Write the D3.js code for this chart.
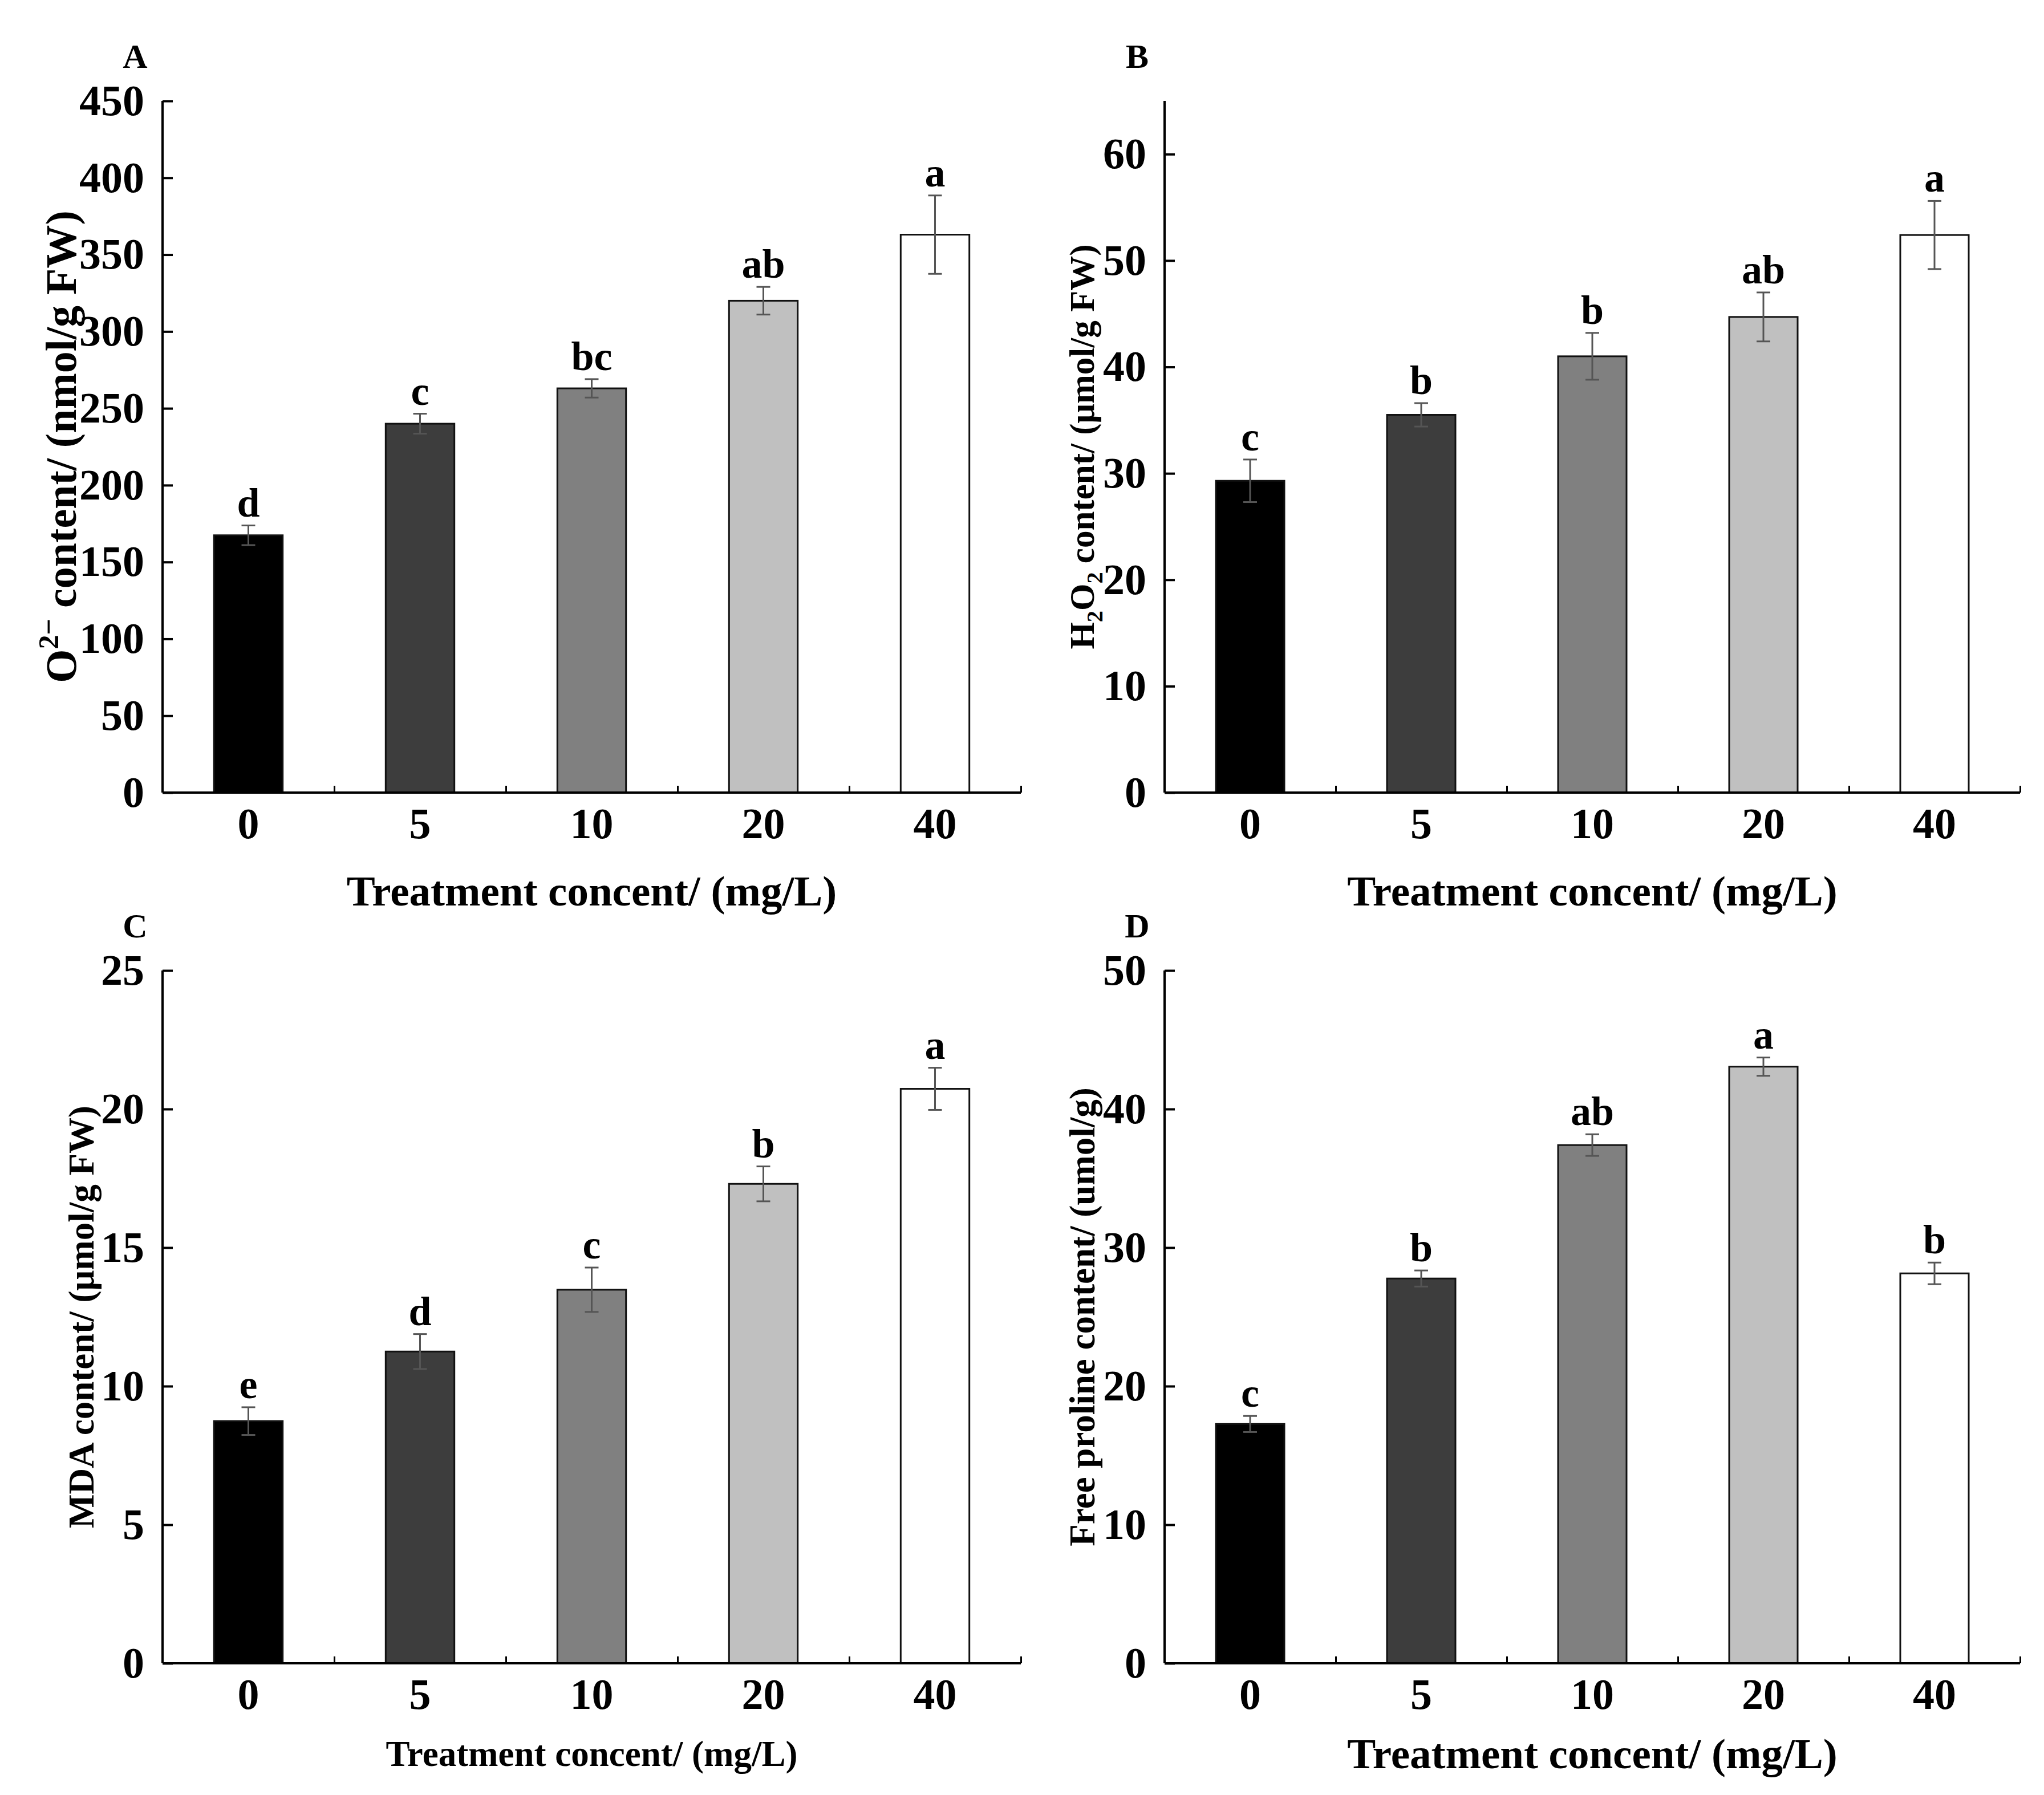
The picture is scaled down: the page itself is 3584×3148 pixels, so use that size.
<!DOCTYPE html>
<html>
<head>
<meta charset="utf-8">
<script src="https://cdn.jsdelivr.net/npm/d3@7"></script>
<style>
  body { margin: 0; background: #fff; }
  text { font-family: "Liberation Serif", "Times New Roman", serif; font-weight: bold; fill: #000; }
</style>
</head>
<body>
<svg id="fig"></svg>
<script>
// treatment concentrations (mg/L) and bar fills
const doses = ["0", "5", "10", "20", "40"];
const barColors = ["#000000", "#3d3d3d", "#808080", "#c0c0c0", "#ffffff"];

// A: superoxide
const o2Mean = [167.4, 240, 263, 320, 363];
const o2Err = [6.4, 6.5, 6, 9, 25.5];
const o2Letters = ["d", "c", "bc", "ab", "a"];
const o2Ticks = [0, 50, 100, 150, 200, 250, 300, 350, 400, 450];

// B: hydrogen peroxide
const h2o2Mean = [29.3, 35.5, 41.0, 44.7, 52.4];
const h2o2Err = [2.0, 1.1, 2.2, 2.3, 3.2];
const h2o2Letters = ["c", "b", "b", "ab", "a"];
const h2o2Ticks = [0, 10, 20, 30, 40, 50, 60];

// C: malondialdehyde
const mdaMean = [8.74, 11.25, 13.48, 17.3, 20.73];
const mdaErr = [0.5, 0.63, 0.8, 0.63, 0.76];
const mdaLetters = ["e", "d", "c", "b", "a"];
const mdaTicks = [0, 5, 10, 15, 20, 25];

// D: free proline
const proMean = [17.27, 27.77, 37.4, 43.06, 28.14];
const proErr = [0.58, 0.58, 0.78, 0.66, 0.78];
const proLetters = ["c", "b", "ab", "a", "b"];
const proTicks = [0, 10, 20, 30, 40, 50];

const W = 3584, H = 3148;
const svg = d3.select("#fig").attr("width", W).attr("height", H)
  .attr("viewBox", [0, 0, W, H]);

const panels = [
  { tag: "A", mean: o2Mean, err: o2Err, letters: o2Letters, ticks: o2Ticks, yMax: 450,
    left: 285, right: 1790, top: 177, bottom: 1390, titleX: 106, yTitleSize: 76,
    yTitle: [["O", ""], ["2\u2212", "sup"], [" content/ (nmol/g FW)", ""]], xTitleSize: 75, xTitleGap: 198 },
  { tag: "B", mean: h2o2Mean, err: h2o2Err, letters: h2o2Letters, ticks: h2o2Ticks, yMax: 65,
    left: 2042, right: 3542, top: 177, bottom: 1390, titleX: 1897, yTitleSize: 61,
    yTitle: [["H", ""], ["2", "sub"], ["O", ""], ["2", "sub"], [" content/ (\u03bcmol/g FW)", ""]], xTitleSize: 75, xTitleGap: 198 },
  { tag: "C", mean: mdaMean, err: mdaErr, letters: mdaLetters, ticks: mdaTicks, yMax: 25,
    left: 285, right: 1790, top: 1702, bottom: 2917, titleX: 142, yTitleSize: 63,
    yTitle: [["MDA content/ (\u03bcmol/g FW)", ""]], xTitleSize: 63, xTitleGap: 180 },
  { tag: "D", mean: proMean, err: proErr, letters: proLetters, ticks: proTicks, yMax: 50,
    left: 2042, right: 3542, top: 1702, bottom: 2917, titleX: 1897, yTitleSize: 63,
    yTitle: [["Free proline content/ (umol/g)", ""]], xTitleSize: 75, xTitleGap: 184 }
];

panels.forEach(p => {
  const g = svg.append("g");

  const x = d3.scaleBand().domain(doses).range([p.left, p.right]).paddingInner(0.6).paddingOuter(0.3);
  const xEdge = d3.scaleLinear().domain([0, doses.length]).range([p.left, p.right]);
  const y = d3.scaleLinear().domain([0, p.yMax]).range([p.bottom, p.top]);

  // bars
  g.selectAll(".bar")
    .data(p.mean)
    .enter()
    .append("rect")
    .attr("x", (d, i) => x(doses[i]))
    .attr("y", d => y(d))
    .attr("width", x.bandwidth())
    .attr("height", d => y(0) - y(d))
    .attr("fill", (d, i) => barColors[i])
    .attr("stroke", "#111")
    .attr("stroke-width", 3);

  // error bars
  const cx = i => x(doses[i]) + x.bandwidth() / 2;
  const eb = g.selectAll(".err")
    .data(p.mean)
    .enter()
    .append("g")
    .attr("stroke", "#555")
    .attr("stroke-width", 3);
  eb.append("line")
    .attr("x1", (d, i) => cx(i)).attr("x2", (d, i) => cx(i))
    .attr("y1", (d, i) => y(d - p.err[i])).attr("y2", (d, i) => y(d + p.err[i]));
  eb.append("line")
    .attr("x1", (d, i) => cx(i) - 12).attr("x2", (d, i) => cx(i) + 12)
    .attr("y1", (d, i) => y(d + p.err[i])).attr("y2", (d, i) => y(d + p.err[i]));
  eb.append("line")
    .attr("x1", (d, i) => cx(i) - 12).attr("x2", (d, i) => cx(i) + 12)
    .attr("y1", (d, i) => y(d - p.err[i])).attr("y2", (d, i) => y(d - p.err[i]));

  // significance letters
  g.selectAll(".sig")
    .data(p.letters)
    .enter()
    .append("text")
    .attr("x", (d, i) => cx(i))
    .attr("y", (d, i) => y(p.mean[i] + p.err[i]) - 16)
    .attr("text-anchor", "middle")
    .attr("font-size", 72)
    .text(d => d);

  // y axis, ticks pointing inward
  const yAxis = d3.axisLeft(y).tickValues(p.ticks).tickSizeInner(-18).tickSizeOuter(0).tickPadding(32);
  const yg = g.append("g").attr("transform", `translate(${p.left},0)`).call(yAxis);
  yg.select(".domain").attr("stroke", "#000").attr("stroke-width", 4)
    .attr("d", `M0,${p.top}V${p.bottom}`);
  yg.selectAll(".tick line").attr("stroke", "#000").attr("stroke-width", 4);
  yg.selectAll("text").attr("font-size", 76).attr("font-family", null).attr("fill", "#000");

  // x axis: labels at bar centres
  const xAxis = d3.axisBottom(x).tickSize(0).tickPadding(26);
  const xg = g.append("g").attr("transform", `translate(0,${p.bottom})`).call(xAxis);
  xg.select(".domain").attr("stroke", "#000").attr("stroke-width", 4)
    .attr("d", `M${p.left},0H${p.right}`);
  xg.selectAll("text").attr("font-size", 76).attr("font-family", null).attr("fill", "#000");

  // x axis: small inward ticks between groups
  const eg = g.append("g").attr("transform", `translate(0,${p.bottom})`)
    .call(d3.axisBottom(xEdge).tickValues(d3.range(1, doses.length + 1)).tickSize(-12).tickFormat(""));
  eg.select(".domain").remove();
  eg.selectAll(".tick line").attr("stroke", "#000").attr("stroke-width", 3);

  // x title
  g.append("text")
    .attr("x", (p.left + p.right) / 2)
    .attr("y", p.bottom + p.xTitleGap)
    .attr("text-anchor", "middle")
    .attr("font-size", p.xTitleSize)
    .text("Treatment concent/ (mg/L)");

  // y title
  const midY = (p.top + p.bottom) / 2;
  const fs = p.yTitleSize;
  const yt = g.append("text")
    .attr("transform", `translate(${p.titleX},${midY}) rotate(-90)`)
    .attr("text-anchor", "middle")
    .attr("dy", "0.35em")
    .attr("font-size", fs);
  let shift = 0;
  p.yTitle.forEach(([s, kind]) => {
    const t = yt.append("tspan").text(s);
    const target = kind === "sup" ? -0.4 * fs : kind === "sub" ? 0.24 * fs : 0;
    if (kind !== "") t.attr("font-size", fs * 0.66);
    if (target !== shift) t.attr("dy", target - shift);
    shift = target;
  });

  // panel tag
  g.append("text")
    .attr("x", p.left - 48)
    .attr("y", p.top - 58)
    .attr("text-anchor", "middle")
    .attr("font-size", 60)
    .text(p.tag);
});
</script>
</body>
</html>
